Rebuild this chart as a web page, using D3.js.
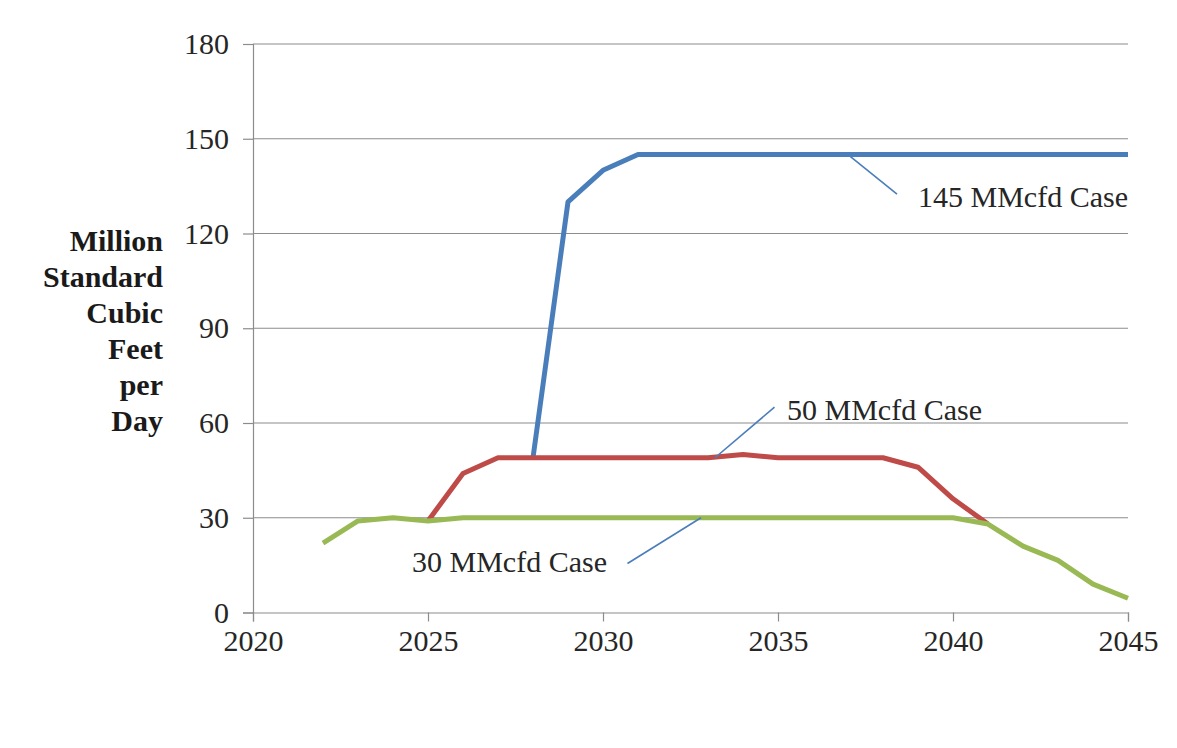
<!DOCTYPE html>
<html>
<head>
<meta charset="utf-8">
<script src="https://cdn.jsdelivr.net/npm/d3@7"></script>
<style>
  html, body { margin: 0; padding: 0; background: #ffffff; }
  svg { display: block; }
  svg text { font-family: "Liberation Serif", "Times New Roman", Tinos, "DejaVu Serif", serif; }
</style>
</head>
<body>
<svg id="chart" width="1177" height="748"></svg>
<script>
// Gas supply cases, million standard cubic feet per day
const years145 = [2028, 2029, 2030, 2031, 2032, 2033, 2034, 2035, 2036, 2037, 2038, 2039, 2040, 2041, 2042, 2043, 2044, 2045];
const values145 = [49, 130, 140, 145, 145, 145, 145, 145, 145, 145, 145, 145, 145, 145, 145, 145, 145, 145];

const years50 = [2025, 2026, 2027, 2028, 2029, 2030, 2031, 2032, 2033, 2034, 2035, 2036, 2037, 2038, 2039, 2040, 2041];
const values50 = [29, 44, 49, 49, 49, 49, 49, 49, 49, 50, 49, 49, 49, 49, 46, 36, 28];

const years30 = [2022, 2023, 2024, 2025, 2026, 2027, 2028, 2029, 2030, 2031, 2032, 2033, 2034, 2035, 2036, 2037, 2038, 2039, 2040, 2041, 2042, 2043, 2044, 2045];
const values30 = [22, 29, 30, 29, 30, 30, 30, 30, 30, 30, 30, 30, 30, 30, 30, 30, 30, 30, 30, 28, 21, 16.5, 9, 4.5];

const xTickValues = [2020, 2025, 2030, 2035, 2040, 2045];
const yTickValues = [0, 30, 60, 90, 120, 150, 180];
const yTitleLines = ["Million", "Standard", "Cubic", "Feet", "per", "Day"];

// Case labels: text, the point the leader line touches, and the leader's far end
const caseLabels = [
  { text: "145 MMcfd Case", year: 2037, value: 145, endYear: 2038.4, endValue: 132.5, textX: 918, textY: 207 },
  { text: "50 MMcfd Case", year: 2033.2, value: 49, endYear: 2034.9, endValue: 65, textX: 787, textY: 420 },
  { text: "30 MMcfd Case", year: 2032.8, value: 30, endYear: 2030.7, endValue: 15.5, textX: 412, textY: 572 }
];

const svg = d3.select("#chart");
const x = d3.scaleLinear().domain([2020, 2045]).range([253, 1128]);
const y = d3.scaleLinear().domain([0, 180]).range([612.5, 44]);

const gridColor = "#8c8c8c";
const textColor = "#262626";

// Horizontal gridlines
svg.append("g")
  .selectAll("line")
  .data(yTickValues.filter(v => v > 0))
  .join("line")
  .attr("x1", x(2020)).attr("x2", x(2045))
  .attr("y1", d => y(d)).attr("y2", d => y(d))
  .attr("stroke", gridColor).attr("stroke-width", 1.2);

// Y axis
const yAxis = svg.append("g")
  .attr("transform", `translate(${x(2020)},0)`)
  .call(d3.axisLeft(y).tickValues(yTickValues).tickSize(10).tickPadding(14).tickFormat(d3.format("d")));
yAxis.attr("font-family", null).attr("font-size", null);
yAxis.select(".domain").attr("stroke", gridColor).attr("stroke-width", 1.2);
yAxis.selectAll(".tick line").attr("stroke", gridColor).attr("stroke-width", 1.2);
yAxis.selectAll(".tick text").attr("fill", textColor).attr("font-size", 30);

// X axis
const xAxis = svg.append("g")
  .attr("transform", `translate(0,${y(0)})`)
  .call(d3.axisBottom(x).tickValues(xTickValues).tickSize(9).tickPadding(8).tickFormat(d3.format("d")));
xAxis.attr("font-family", null).attr("font-size", null);
xAxis.select(".domain").attr("stroke", gridColor).attr("stroke-width", 1.2);
xAxis.selectAll(".tick line").attr("stroke", gridColor).attr("stroke-width", 1.2);
xAxis.selectAll(".tick text").attr("fill", textColor).attr("font-size", 30);

// Y axis title, right-aligned block
svg.append("text")
  .attr("text-anchor", "end")
  .attr("font-weight", "bold")
  .attr("font-size", 30)
  .attr("fill", "#1a1a1a")
  .selectAll("tspan")
  .data(yTitleLines)
  .join("tspan")
  .attr("x", 163)
  .attr("y", (d, i) => 251 + i * 36)
  .text(d => d);

// Series lines
const line = d3.line().x(d => x(d[0])).y(d => y(d[1]));
const series = [
  { years: years145, values: values145, color: "#4a7ebb" },
  { years: years50, values: values50, color: "#be4b48" },
  { years: years30, values: values30, color: "#98b954" }
];
svg.append("g")
  .selectAll("path")
  .data(series)
  .join("path")
  .attr("d", s => line(s.years.map((yr, i) => [yr, s.values[i]])))
  .attr("fill", "none")
  .attr("stroke", s => s.color)
  .attr("stroke-width", 5)
  .attr("stroke-linejoin", "round");

// Case labels with leader lines
const labels = svg.append("g");
labels.selectAll("line")
  .data(caseLabels)
  .join("line")
  .attr("x1", d => x(d.year)).attr("y1", d => y(d.value))
  .attr("x2", d => x(d.endYear)).attr("y2", d => y(d.endValue))
  .attr("stroke", "#4a7ebb").attr("stroke-width", 1.6);
labels.selectAll("text")
  .data(caseLabels)
  .join("text")
  .attr("x", d => d.textX).attr("y", d => d.textY)
  .attr("font-size", 30)
  .attr("fill", textColor)
  .text(d => d.text);
</script>
</body>
</html>
